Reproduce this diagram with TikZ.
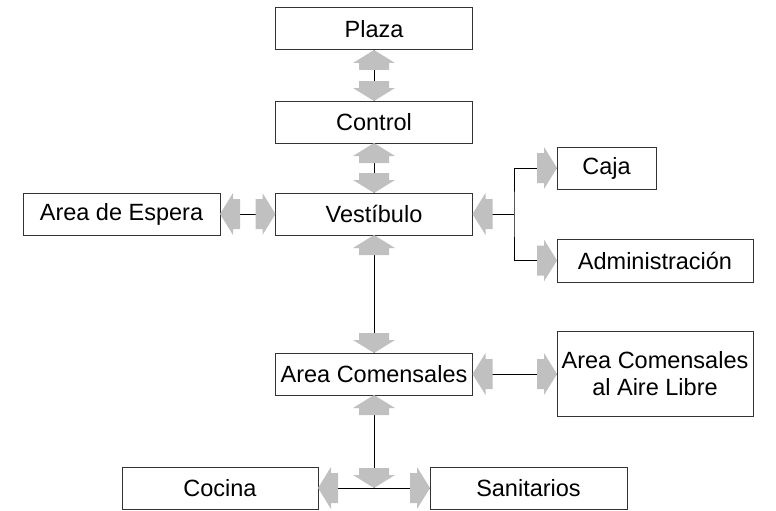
\documentclass[tikz,border=0pt]{standalone}
\usepackage{fontspec}
\setmainfont{Liberation Sans}
\definecolor{arrowgray}{RGB}{192,192,192}
\definecolor{boxline}{RGB}{51,51,51}
% block arrow with its tip at #1, pointing in direction #2 (degrees)
\newcommand\blockarr[2]{%
  \begin{scope}[shift={(#1)},rotate=#2]
    \fill[arrowgray] (0,0) -- (-13,21) -- (-13,15) -- (-20,15) -- (-20,-15)
      -- (-13,-15) -- (-13,-21) -- cycle;
  \end{scope}}
\begin{document}
\begin{tikzpicture}[x=1pt,y=-1pt,
  room/.style={draw=boxline,line width=1pt,fill=white,inner sep=0pt,outer sep=0pt,
    minimum width=197pt,minimum height=42pt,align=center,
    font=\fontsize{23.5}{27}\selectfont},
  link/.style={draw=black,line width=1pt}]
\useasboundingbox (0,0) rectangle (776,511);

% rooms
\node[room] (plaza)   at (374,29)    {Plaza};
\node[room] (control) at (374,122)   {Control};
\node[room] (vest)    at (374,214)   {Vestíbulo};
\node[room] (espera)  at (121.5,214) {Area de Espera};
\node[room,minimum width=99pt] (caja) at (606.5,168) {Caja};
\node[room,minimum width=196pt,minimum height=43pt] (admin) at (655,260.5) {Administración};
\node[room] (comens)  at (374,374)   {Area Comensales};
\node[room,minimum width=196pt,minimum height=85pt] (aire) at (655,374) {Area Comensales\\al Aire Libre};
\node[room,minimum width=196pt] (cocina) at (220,488) {Cocina};
\node[room] (sanit)   at (528.5,488) {Sanitarios};

\coordinate (j1) at (514,214);
\coordinate (j2) at (374,488);

% connectors
\draw[link] (plaza.south) -- (control.north);
\draw[link] (control.south) -- (vest.north);
\draw[link] (espera.east) -- (vest.west);
\draw[link] (vest.east) -- (j1);
\draw[link] (caja.west) -| (j1) |- (admin.west);
\draw[link] (vest.south) -- (comens.north);
\draw[link] (comens.east) -- (aire.west);
\draw[link] (comens.south) -- (j2);
\draw[link] (cocina.east) -- (sanit.west);

% arrow heads
\blockarr{plaza.south}{90}
\blockarr{control.north}{270}
\blockarr{control.south}{90}
\blockarr{vest.north}{270}
\blockarr{espera.east}{180}
\blockarr{vest.west}{0}
\blockarr{vest.east}{180}
\blockarr{caja.west}{0}
\blockarr{admin.west}{0}
\blockarr{vest.south}{90}
\blockarr{comens.north}{270}
\blockarr{comens.east}{180}
\blockarr{aire.west}{0}
\blockarr{comens.south}{90}
\blockarr{j2}{270}
\blockarr{cocina.east}{180}
\blockarr{sanit.west}{0}
\end{tikzpicture}
\end{document}
